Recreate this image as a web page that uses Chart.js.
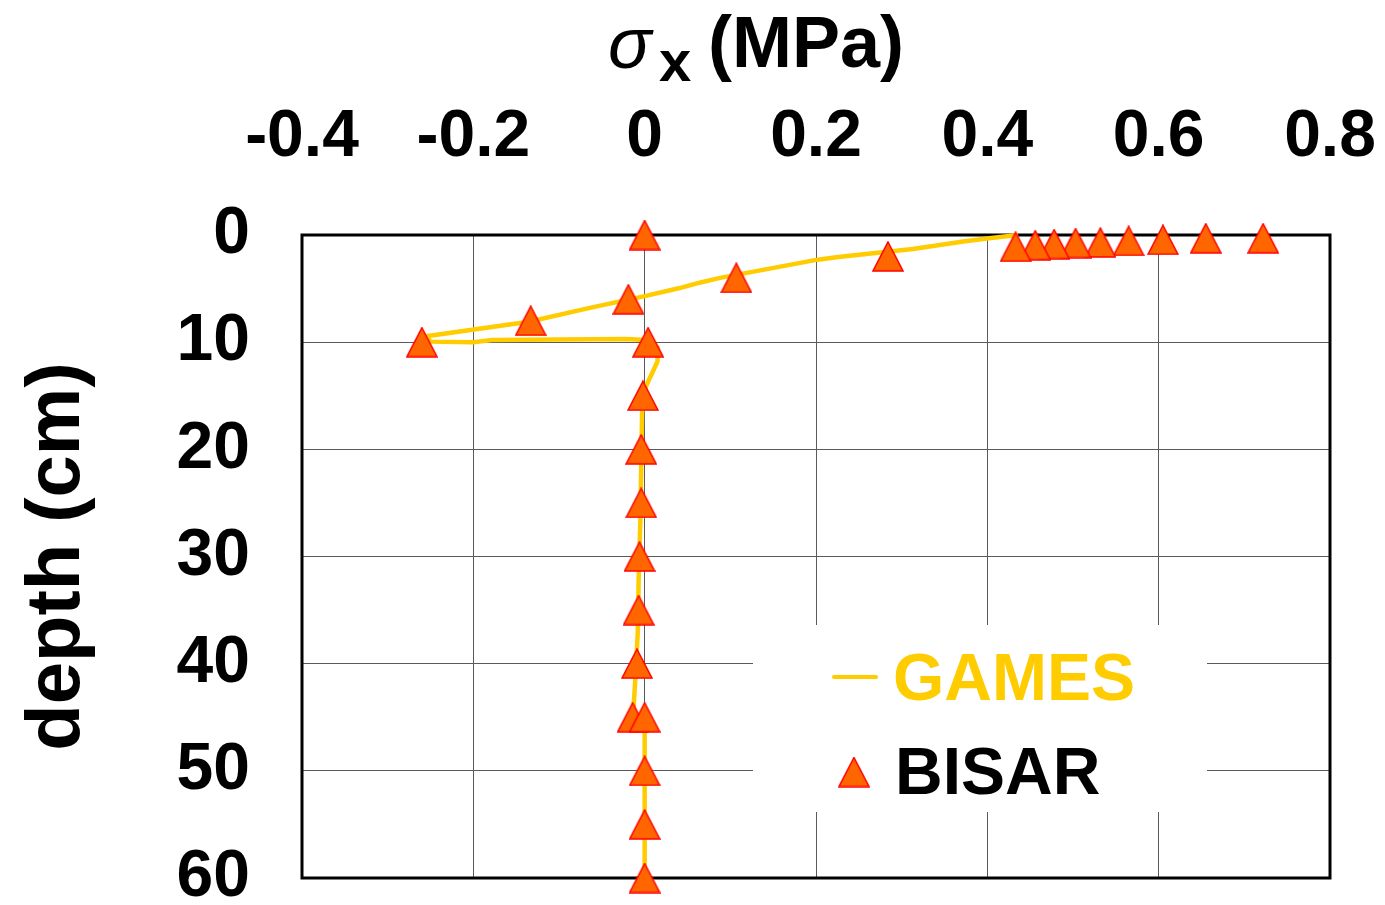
<!DOCTYPE html>
<html lang="en">
<head>
    <meta charset="UTF-8">
    <title>Horizontal stress vs depth</title>
    <script src="https://cdn.jsdelivr.net/npm/chart.js"></script>
    <style>
        body {
            margin: 0;
            background: #ffffff;
        }

        #wrap {
            position: relative;
            width: 1385px;
            height: 905px;
        }
    </style>
</head>
<body>
    <div id="wrap">
        <canvas id="stress-chart"></canvas>
    </div>
    <script>
        // GAMES curve (sigma_x in MPa vs depth in cm)
        const gamesStress = [0.436, 0.402, 0.372, 0.313, 0.226, 0.202, 0.088, 0.064, 0.041, 0, -0.064, -0.135, -0.255,
            -0.25, -0.2, -0.178, -0.021, 0, 0.015, 0.015, 0.001, -0.003, -0.004, -0.005, -0.007, -0.008, -0.011, -0.013,
            -0.013, 0, 0];
        const gamesDepth = [0, 0.3, 0.6, 1.3, 2.05, 2.3, 4.0, 4.45, 4.95, 5.7, 6.8, 8.1, 9.45,
            9.95, 10, 9.8, 9.7, 9.8, 10.5, 11.8, 14.2, 16.5, 21.5, 26.5, 32, 37, 41.5, 44.2,
            45, 45.5, 60];

        // BISAR points
        const bisarStress = [0, 0.722, 0.655, 0.605, 0.565, 0.532, 0.503, 0.478, 0.456, 0.433, 0.284, 0.107, -0.019,
            -0.133, -0.26, 0.004, -0.002, -0.004, -0.004, -0.006, -0.007, -0.009, -0.014, 0, 0, 0, 0];
        const bisarDepth = [0, 0.3, 0.3, 0.45, 0.55, 0.7, 0.75, 0.85, 0.95, 1.1, 2, 4, 6,
            8, 10, 10, 15, 20, 25, 30, 35, 40, 45, 45, 50, 55, 60];

        const xTicks = [-0.4, -0.2, 0, 0.2, 0.4, 0.6, 0.8];
        const yTicks = [0, 10, 20, 30, 40, 50, 60];

        const gold = "#FFCC00";
        const fontFamily = "'Liberation Sans', Arial, sans-serif";
        Chart.defaults.font.family = fontFamily;
        Chart.defaults.color = "#000000";

        // Excel-like triangle marker, centred on its bounding box
        function makeTriangle() {
            const c = document.createElement("canvas");
            c.width = 32;
            c.height = 31;
            const g = c.getContext("2d");
            g.beginPath();
            g.moveTo(16, 1);
            g.lineTo(31, 30);
            g.lineTo(1, 30);
            g.closePath();
            g.fillStyle = "#FF6600";
            g.fill();
            g.lineWidth = 1.5;
            g.strokeStyle = "#FF0000";
            g.stroke();
            return c;
        }
        const triangle = makeTriangle();

        const toPoints = (xs, ys) => xs.map((x, i) => ({ x: x, y: ys[i] }));

        const framePlugin = {
            id: "frame",
            beforeDatasetsDraw(chart) {
                const a = chart.chartArea;
                const ctx = chart.ctx;
                ctx.save();
                ctx.strokeStyle = "#000000";
                ctx.lineWidth = 3;
                ctx.strokeRect(a.left, a.top, a.right - a.left, a.bottom - a.top);
                ctx.restore();
            }
        };

        const titlePlugin = {
            id: "sigmaTitle",
            afterDraw(chart) {
                const ctx = chart.ctx;
                ctx.save();
                ctx.fillStyle = "#000000";
                ctx.textBaseline = "alphabetic";
                ctx.textAlign = "left";
                ctx.font = "italic 72px " + fontFamily;
                ctx.fillText("\u03c3", 608, 68);
                ctx.font = "bold 58px " + fontFamily;
                ctx.fillText("x", 659, 81);
                ctx.font = "bold 72px " + fontFamily;
                ctx.fillText("(MPa)", 708, 67);
                ctx.restore();
            }
        };

        const legendPlugin = {
            id: "boxLegend",
            afterDraw(chart) {
                const ctx = chart.ctx;
                ctx.save();
                ctx.fillStyle = "#ffffff";
                ctx.fillRect(753, 625, 454, 187);

                ctx.strokeStyle = gold;
                ctx.lineWidth = 4;
                ctx.lineCap = "round";
                ctx.beginPath();
                ctx.moveTo(834, 677);
                ctx.lineTo(876, 677);
                ctx.stroke();

                ctx.drawImage(triangle, 854 - triangle.width / 2, 772 - triangle.height / 2);

                ctx.font = "bold 66px " + fontFamily;
                ctx.textAlign = "left";
                ctx.textBaseline = "alphabetic";
                ctx.fillStyle = gold;
                ctx.fillText("GAMES", 893, 700);
                ctx.fillStyle = "#000000";
                ctx.fillText("BISAR", 895, 794);
                ctx.restore();
            }
        };

        new Chart(document.getElementById("stress-chart"), {
            type: "scatter",
            data: {
                datasets: [{
                    label: "BISAR",
                    data: toPoints(bisarStress, bisarDepth),
                    pointStyle: triangle,
                    pointRadius: 16,
                    showLine: false,
                    clip: false,
                    order: 0
                }, {
                    label: "GAMES",
                    data: toPoints(gamesStress, gamesDepth),
                    showLine: true,
                    borderColor: gold,
                    borderWidth: 4.5,
                    tension: 0,
                    pointRadius: 0,
                    clip: false,
                    order: 1
                }]
            },
            options: {
                responsive: true,
                maintainAspectRatio: false,
                animation: false,
                layout: {
                    padding: { top: 0, left: 0, right: 55, bottom: 27 }
                },
                plugins: {
                    legend: { display: false },
                    tooltip: { enabled: false }
                },
                scales: {
                    x: {
                        type: "linear",
                        position: "top",
                        min: -0.4,
                        max: 0.8,
                        afterBuildTicks: (scale) => {
                            scale.ticks = xTicks.map(v => ({ value: v }));
                        },
                        ticks: {
                            padding: 58,
                            font: { size: 66, weight: "bold" },
                            callback: (v) => String(Number(v.toFixed(1)))
                        },
                        grid: { color: "#5a5a5a", lineWidth: 1, drawTicks: false },
                        border: { display: false },
                        afterFit: (scale) => {
                            scale.height = 235;
                            scale.paddingLeft = 0;
                            scale.paddingRight = 0;
                        }
                    },
                    y: {
                        type: "linear",
                        reverse: true,
                        min: 0,
                        max: 60,
                        afterBuildTicks: (scale) => {
                            scale.ticks = yTicks.map(v => ({ value: v }));
                        },
                        ticks: {
                            padding: 52,
                            font: { size: 66, weight: "bold" }
                        },
                        grid: { color: "#5a5a5a", lineWidth: 1, drawTicks: false },
                        border: { display: false },
                        title: {
                            display: true,
                            text: "depth (cm)",
                            font: { size: 76, weight: "bold" },
                            padding: { top: 12, bottom: 0 }
                        },
                        afterFit: (scale) => {
                            scale.width = 302;
                            scale.paddingTop = 0;
                            scale.paddingBottom = 0;
                        }
                    }
                }
            },
            plugins: [framePlugin, titlePlugin, legendPlugin]
        });
    </script>
</body>
</html>
